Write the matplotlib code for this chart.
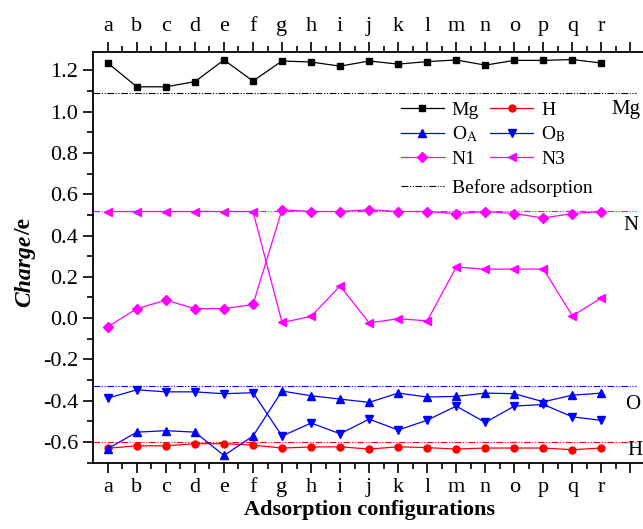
import matplotlib.pyplot as plt
import numpy as np
from matplotlib.lines import Line2D

plt.rcParams['font.family'] = ['Liberation Serif', 'DejaVu Serif']
plt.rcParams['mathtext.fontset'] = 'stix'
plt.rcParams['axes.unicode_minus'] = False

configs = list('abcdefghijklmnopqr')

mg = [1.235, 1.12, 1.12, 1.145, 1.25, 1.148, 1.245, 1.24, 1.22, 1.245, 1.23, 1.242,
      1.25, 1.225, 1.248, 1.248, 1.252, 1.235]
h = [-0.63, -0.618, -0.618, -0.608, -0.608, -0.615, -0.629, -0.624, -0.623, -0.634,
     -0.623, -0.627, -0.634, -0.629, -0.629, -0.629, -0.637, -0.629]
o_a = [-0.632, -0.552, -0.545, -0.552, -0.665, -0.571, -0.353, -0.376, -0.392, -0.408,
       -0.363, -0.382, -0.379, -0.363, -0.366, -0.405, -0.373, -0.363]
o_b = [-0.387, -0.347, -0.357, -0.357, -0.366, -0.361, -0.571, -0.508, -0.56, -0.489,
       -0.542, -0.494, -0.426, -0.505, -0.426, -0.418, -0.478, -0.495]
n1 = [-0.042, 0.046, 0.087, 0.046, 0.046, 0.066, 0.525, 0.516, 0.516, 0.525, 0.516,
      0.516, 0.506, 0.516, 0.506, 0.485, 0.506, 0.516]
n3 = [0.516, 0.516, 0.516, 0.516, 0.516, 0.516, -0.021, 0.008, 0.156, -0.023, -0.003,
      -0.013, 0.247, 0.237, 0.237, 0.238, 0.011, 0.098]

# charges before adsorption
before = {'Mg': 1.09, 'N': 0.521, 'O': -0.329, 'H': -0.6}

x = np.arange(1, len(configs) + 1)

fig = plt.figure(figsize=(6.43, 5.29), dpi=100)
ax = fig.add_axes([93.3 / 643, 1 - 462.7 / 529, (645 - 93.3) / 643, 411 / 529])

dd = (0, (6, 1.5, 1, 1.5, 1, 1.5))
xl = [0.5, 19.2]
ax.plot(xl, [before['Mg']] * 2, color='black', lw=0.8, ls=dd)
ax.plot(xl, [before['N']] * 2, color='#ff00ff', lw=0.8, ls=dd)
ax.plot(xl, [before['O']] * 2, color='#0000ff', lw=0.8, ls=dd)
ax.plot(xl, [before['H']] * 2, color='#ff0000', lw=0.8, ls=dd)

l_mg, = ax.plot(x, mg, color='black', marker='s', ms=5, lw=0.9, label='Mg')
l_h, = ax.plot(x, h, color='#ff0000', marker='o', ms=5, lw=0.9, label='H')
l_oa, = ax.plot(x, o_a, color='#0000ff', marker='^', ms=6, lw=0.9, label=r'O$_\mathrm{A}$')
l_ob, = ax.plot(x, o_b, color='#0000ff', marker='v', ms=6, lw=0.9, label=r'O$_\mathrm{B}$')
l_n1, = ax.plot(x, n1, color='#ff00ff', marker='D', ms=5, lw=0.9, label='N1')
l_n3, = ax.plot(x, n3, color='#ff00ff', marker='<', ms=6, lw=0.9, label='N3')

ax.set_xlim(0.5, 19.5)
ax.set_ylim(-0.7, 1.29)
ax.set_xticks(np.arange(1, 20))
ax.set_xticklabels(configs + [''])
ax.set_xticks(np.arange(1.5, 19.5, 1), minor=True)
ax.set_yticks(np.arange(-0.6, 1.21, 0.2))
ax.set_yticklabels(['%.1f' % v for v in np.arange(-0.6, 1.21, 0.2)])
ax.set_yticks(np.arange(-0.7, 1.29, 0.1), minor=True)
ax.tick_params(which='both', direction='out', top=True, labeltop=True, right=False,
               labelsize=16, width=1.2)
ax.tick_params(which='major', length=7, pad=4)
ax.tick_params(which='minor', length=4)
for s in ax.spines.values():
    s.set_linewidth(1.3)

ax.set_xlabel('Adsorption configurations', fontsize=16, fontweight='bold', labelpad=2)
t1 = fig.text(25 / 643, 1 - 307 / 529, 'Charge', rotation=90, fontsize=17,
              fontweight='bold', fontstyle='italic', ha='center', va='bottom')
fig.canvas.draw()
bb = t1.get_window_extent()
fig.text(25 / 643, bb.y1 / fig.bbox.height, '/e', rotation=90, fontsize=17,
         fontweight='bold', ha='center', va='bottom')

for name, xx, yy in [('Mg', 18.33, 1.008), ('N', 18.74, 0.447), ('O', 18.81, -0.42),
                     ('H', 18.88, -0.64)]:
    ax.text(xx, yy, name, fontsize=15, ha='left', va='center', clip_on=False)

leg1 = ax.legend([l_mg, l_oa, l_n1, l_h, l_ob, l_n3],
                 ['Mg', r'O$_\mathrm{A}$', 'N1', 'H', r'O$_\mathrm{B}$', 'N3'],
                 ncol=2, frameon=False, fontsize=14, loc='upper left',
                 bbox_to_anchor=(401 / 643, 1 - 101 / 529), bbox_transform=fig.transFigure,
                 borderpad=0, borderaxespad=0, handlelength=2.2, handletextpad=0.4,
                 columnspacing=0.6, labelspacing=0.3)
ax.add_artist(leg1)
bh = Line2D([], [], color='black', lw=0.8, ls=dd)
ax.legend([bh], ['Before adsorption'], frameon=False, fontsize=14, loc='upper left',
          bbox_to_anchor=(401 / 643, 1 - 179 / 529), bbox_transform=fig.transFigure,
          borderpad=0, borderaxespad=0, handlelength=2.2, handletextpad=0.4)

fig.savefig('out.png', dpi=100)
